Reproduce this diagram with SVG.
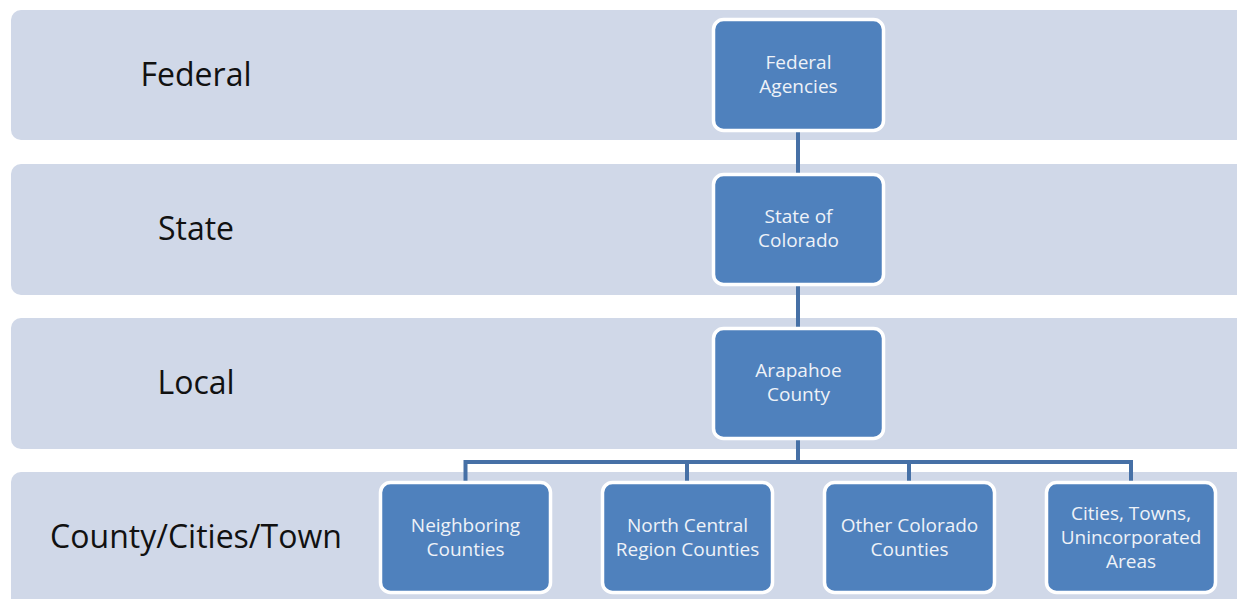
<svg xmlns="http://www.w3.org/2000/svg" width="1237" height="599" viewBox="0 0 1237 599">
<style>
.band{fill:#d0d8e8}
.lvl{font-family:"Open Sans","Liberation Sans",sans-serif;font-size:32px;fill:#111;text-anchor:middle}
.box{fill:#4f81bd;stroke:#ffffff;stroke-width:3.5}
.bt{font-family:"Open Sans","Liberation Sans",sans-serif;font-size:19px;fill:#eef2f8;text-anchor:middle}
.con{fill:none;stroke:#4670a6;stroke-width:4}
</style>
<rect width="1237" height="599" fill="#ffffff"/>
<g id="bands">
<rect class="band" x="11" y="10" width="1240" height="130" rx="10"/>
<rect class="band" x="11" y="164" width="1240" height="131" rx="10"/>
<rect class="band" x="11" y="318" width="1240" height="131" rx="10"/>
<rect class="band" x="11" y="472" width="1240" height="140" rx="10"/>
</g>
<g id="levels">
<text class="lvl" x="196" y="86">Federal</text>
<text class="lvl" x="196" y="240">State</text>
<text class="lvl" x="196" y="394">Local</text>
<text class="lvl" x="196" y="548">County/Cities/Town</text>
</g>
<g id="connectors">
<line class="con" x1="798" y1="130" x2="798" y2="176"/>
<line class="con" x1="798" y1="284" x2="798" y2="330"/>
<polyline class="con" points="798,438 798,462"/>
<polyline class="con" points="465.5,482 465.5,462 1131,462 1131,482"/>
<line class="con" x1="687" y1="462" x2="687" y2="482"/>
<line class="con" x1="909" y1="462" x2="909" y2="482"/>
</g>
<g id="federal-agencies">
<rect class="box" x="713.5" y="19.5" width="170" height="111" rx="10"/>
<text class="bt" x="798.5" y="69">Federal</text>
<text class="bt" x="798.5" y="93">Agencies</text>
</g>
<g id="state-of-colorado">
<rect class="box" x="713.5" y="174.5" width="170" height="110" rx="10"/>
<text class="bt" x="798.5" y="223">State of</text>
<text class="bt" x="798.5" y="247">Colorado</text>
</g>
<g id="arapahoe-county">
<rect class="box" x="713.5" y="328.5" width="170" height="110" rx="10"/>
<text class="bt" x="798.5" y="377">Arapahoe</text>
<text class="bt" x="798.5" y="401">County</text>
</g>
<g id="neighboring-counties">
<rect class="box" x="380.5" y="482.5" width="170" height="110" rx="10"/>
<text class="bt" x="465.5" y="532">Neighboring</text>
<text class="bt" x="465.5" y="556">Counties</text>
</g>
<g id="north-central-region-counties">
<rect class="box" x="602.5" y="482.5" width="170" height="110" rx="10"/>
<text class="bt" x="687.5" y="532">North Central</text>
<text class="bt" x="687.5" y="556">Region Counties</text>
</g>
<g id="other-colorado-counties">
<rect class="box" x="824.5" y="482.5" width="170" height="110" rx="10"/>
<text class="bt" x="909.5" y="532">Other Colorado</text>
<text class="bt" x="909.5" y="556">Counties</text>
</g>
<g id="cities-towns-unincorporated-areas">
<rect class="box" x="1046.5" y="482.5" width="169" height="110" rx="10"/>
<text class="bt" x="1131" y="520">Cities, Towns,</text>
<text class="bt" x="1131" y="544">Unincorporated</text>
<text class="bt" x="1131" y="568">Areas</text>
</g>
</svg>
